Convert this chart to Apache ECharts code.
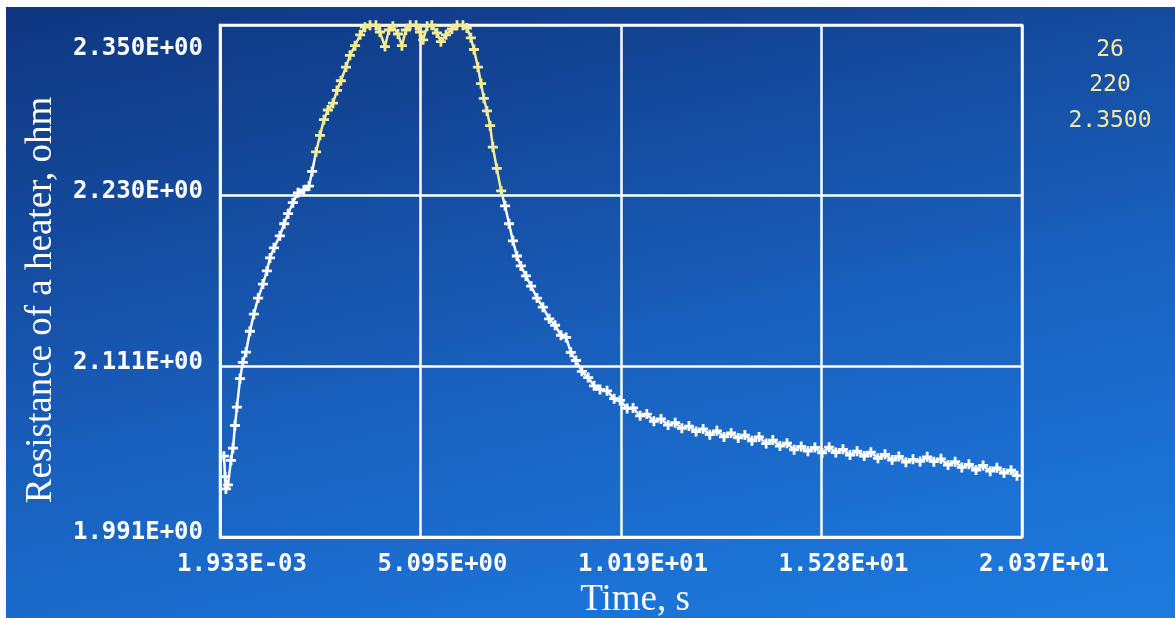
<!DOCTYPE html>
<html>
<head>
<meta charset="utf-8">
<script src="https://cdn.jsdelivr.net/npm/echarts@6/dist/echarts.min.js"></script>
<style>
  html, body { margin: 0; padding: 0; background: #ffffff; }
  #chart {
    position: absolute; left: 6px; top: 7px; width: 1169px; height: 611px;
    background: linear-gradient(168deg, #0e3680 0%, #14489a 25%, #1960bd 55%, #1b70d3 80%, #1e7bde 100%);
  }
</style>
</head>
<body>
<div id="chart"></div>
<script>
// ---- data (time in seconds, resistance in ohm) ----
const timeS = [
  0.10, 0.13, 0.15, 0.20, 0.28, 0.33, 0.38, 0.43, 0.51, 0.58,
  0.66, 0.76, 0.86, 0.97, 1.09, 1.19, 1.27, 1.37, 1.52, 1.63,
  1.73, 1.85, 1.98, 2.13, 2.26, 2.34, 2.44, 2.54, 2.64, 2.74,
  2.87, 2.97, 3.07, 3.20, 3.30, 3.43, 3.56, 3.68, 3.81, 3.96,
  4.06, 4.19, 4.29, 4.39, 4.52, 4.62, 4.72, 4.83, 4.98, 5.08,
  5.16, 5.26, 5.38, 5.51, 5.61, 5.74, 5.89, 6.02, 6.17, 6.27,
  6.37, 6.45, 6.55, 6.63, 6.70, 6.78, 6.86, 6.93, 7.03, 7.14,
  7.24, 7.34, 7.44, 7.54, 7.64, 7.77, 7.90, 8.05, 8.20, 8.36,
  8.51, 8.66, 8.79, 8.91, 9.04, 9.19, 9.35, 9.50, 9.65, 9.83,
  10.01, 10.16, 10.34, 10.49, 10.67, 10.84, 11.02, 11.20, 11.38, 11.56,
  11.73, 11.91, 12.09, 12.27, 12.44, 12.62, 12.80, 12.98, 13.16, 13.33,
  13.51, 13.69, 13.87, 14.04, 14.22, 14.40, 14.58, 14.76, 14.93, 15.11,
  15.29, 15.47, 15.64, 15.82, 16.00, 16.18, 16.36, 16.53, 16.71, 16.89,
  17.07, 17.24, 17.42, 17.60, 17.78, 17.96, 18.13, 18.31, 18.49, 18.67,
  18.84, 19.02, 19.20, 19.38, 19.56, 19.73, 19.91, 20.09, 20.24
];
const resistanceOhm = [
  2.0477, 2.0333, 2.0247, 2.0276, 2.0448, 2.0534, 2.0692, 2.0821, 2.1021, 2.1135,
  2.1206, 2.1353, 2.1473, 2.1586, 2.1684, 2.1776, 2.1867, 2.1938, 2.2022, 2.2107,
  2.2178, 2.2255, 2.2324, 2.2344, 2.2371, 2.2474, 2.2611, 2.2727, 2.2837, 2.2905,
  2.2953, 2.3042, 2.3110, 2.3206, 2.3288, 2.3356, 2.3432, 2.3486, 2.3500, 2.3500,
  2.3452, 2.3350, 2.3466, 2.3493, 2.3438, 2.3356, 2.3466, 2.3500, 2.3500, 2.3452,
  2.3397, 2.3493, 2.3500, 2.3445, 2.3384, 2.3432, 2.3473, 2.3500, 2.3500, 2.3480,
  2.3411, 2.3329, 2.3206, 2.3090, 2.2987, 2.2898, 2.2795, 2.2645, 2.2495, 2.2337,
  2.2233, 2.2107, 2.1987, 2.1881, 2.1811, 2.1741, 2.1670, 2.1586, 2.1522, 2.1440,
  2.1395, 2.1325, 2.1310, 2.1205, 2.1148, 2.1072, 2.1028, 2.0970, 2.0945, 2.0935,
  2.0880, 2.0868, 2.0812, 2.0815, 2.0760, 2.0772, 2.0722, 2.0738, 2.0695, 2.0712,
  2.0672, 2.0688, 2.0650, 2.0668, 2.0628, 2.0655, 2.0612, 2.0640, 2.0605, 2.0625,
  2.0585, 2.0612, 2.0565, 2.0590, 2.0548, 2.0568, 2.0522, 2.0545, 2.0512, 2.0538,
  2.0500, 2.0540, 2.0502, 2.0525, 2.0485, 2.0512, 2.0478, 2.0505, 2.0462, 2.0490,
  2.0450, 2.0475, 2.0435, 2.0455, 2.0440, 2.0472, 2.0438, 2.0458, 2.0415, 2.0438,
  2.0398, 2.0420, 2.0380, 2.0412, 2.0372, 2.0395, 2.0358, 2.0378, 2.0340
];
const xTickLabels = ['1.933E-03', '5.095E+00', '1.019E+01', '1.528E+01', '2.037E+01'];
const yTickLabels = ['1.991E+00', '2.111E+00', '2.230E+00', '2.350E+00'];
const infoLines = ['26', '220', '2.3500'];
const highlightRange = [2.4, 7.15]; // time window drawn in yellow

// ---- chart ----
const X_MIN = 0, X_INT = 5.092, X_MAX = 20.368;
const Y_MIN = 1.991, Y_INT = 0.1197, Y_MAX = 2.3501;
const points = timeS.map((t, i) => [t, resistanceOhm[i]]);
const plusPath = 'path://M3.6,0H6.4V3.6H10V6.4H6.4V10H3.6V6.4H0V3.6H3.6Z';

const chart = echarts.init(document.getElementById('chart'), null, { renderer: 'canvas' });
chart.setOption({
  backgroundColor: 'transparent',
  animation: false,
  grid: {
    left: 214, top: 18, right: 153, bottom: 81,
    containLabel: false, outerBoundsMode: 'none',
    show: true, borderColor: '#ffffff', borderWidth: 2.5, backgroundColor: 'transparent'
  },
  xAxis: {
    type: 'value', min: X_MIN, max: X_MAX, interval: X_INT,
    name: 'Time, s', nameLocation: 'middle', nameGap: 44,
    nameTextStyle: { color: '#ffffff', fontFamily: 'Liberation Serif', fontSize: 37, padding: [0, 0, 0, 28] },
    axisLine: { show: true, lineStyle: { color: '#ffffff', width: 2.5 } },
    axisTick: { show: false },
    splitLine: { show: true, lineStyle: { color: '#ffffff', width: 2.5 } },
    axisLabel: {
      color: '#ffffff', fontFamily: 'DejaVu Sans Mono', fontWeight: 'bold', fontSize: 24,
      margin: 16, align: 'center', padding: [0, 0, 0, 44],
      formatter: v => xTickLabels[Math.round((v - X_MIN) / X_INT)] || ''
    }
  },
  yAxis: {
    type: 'value', min: Y_MIN, max: Y_MAX, interval: Y_INT,
    name: 'Resistance of a heater, ohm', nameLocation: 'middle', nameGap: 160,
    nameTextStyle: { color: '#ffffff', fontFamily: 'Liberation Serif', fontSize: 37, padding: [0, 38, 0, 0] },
    axisLine: { show: true, lineStyle: { color: '#ffffff', width: 2.5 } },
    axisTick: { show: false },
    splitLine: { show: true, lineStyle: { color: '#ffffff', width: 2.5 } },
    axisLabel: {
      color: '#ffffff', margin: 17,
      formatter: v => {
        const i = Math.round((v - Y_MIN) / Y_INT);
        const s = yTickLabels[i] || '';
        return i === yTickLabels.length - 1 ? '{t|' + s + '}' : '{n|' + s + '}';
      },
      rich: {
        n: { color: '#ffffff', fontFamily: 'DejaVu Sans Mono', fontWeight: 'bold', fontSize: 24, padding: [0, 0, 8, 0] },
        t: { color: '#ffffff', fontFamily: 'DejaVu Sans Mono', fontWeight: 'bold', fontSize: 24, padding: [48, 0, 0, 0] }
      }
    }
  },
  visualMap: {
    show: false, type: 'piecewise', dimension: 0, seriesIndex: 0,
    pieces: [
      { lt: highlightRange[0], color: '#ffffff' },
      { gte: highlightRange[0], lte: highlightRange[1], color: '#f4eb96' },
      { gt: highlightRange[1], color: '#ffffff' }
    ]
  },
  series: [{
    type: 'line',
    data: points,
    showSymbol: true,
    symbol: plusPath,
    symbolSize: 10,
    lineStyle: { width: 2.5 },
    clip: true
  }],
  graphic: infoLines.map((s, i) => ({
    type: 'text',
    x: 1104, y: 43 + i * 35.5,
    style: {
      text: s, fill: '#f4e9a2', font: '23px "DejaVu Sans Mono"',
      textAlign: 'center', textVerticalAlign: 'middle'
    }
  }))
});
</script>
</body>
</html>
